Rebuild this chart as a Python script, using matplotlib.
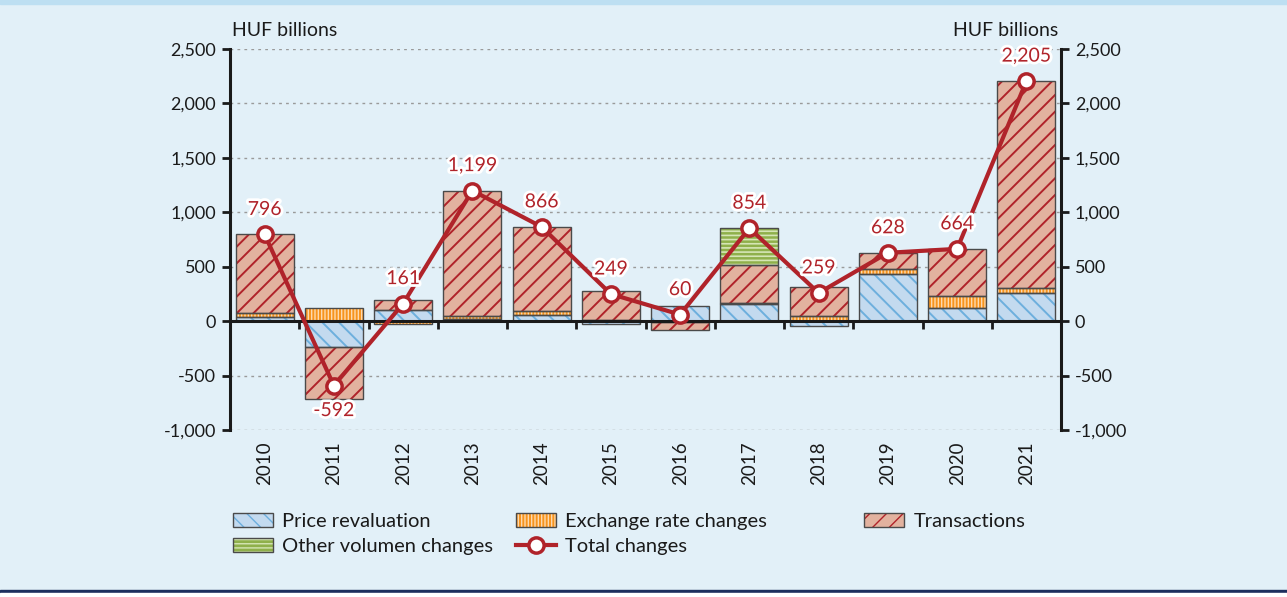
import numpy as np
import matplotlib.pyplot as plt
import matplotlib.patheffects as pe
import matplotlib.transforms as mtransforms
from matplotlib.patches import Patch, Rectangle
from matplotlib.lines import Line2D
from matplotlib.legend_handler import HandlerTuple
from matplotlib.ticker import FuncFormatter, MultipleLocator, FixedLocator

plt.rcParams['font.family'] = ['Lato', 'DejaVu Sans']

# data (HUF billions)
years = [str(y) for y in range(2010, 2022)]
price = [35, -236, 105, 20, 55, -28, 140, 159, -46, 430, 122, 254]
exch = [40, 123, -30, 30, 37, 15, -5, 10, 50, 45, 105, 55]
trans = [721, -479, 86, 1149, 774, 262, -75, 343, 260, 153, 437, 1896]
other = [0, 0, 0, 0, 0, 0, 0, 342, 0, 0, 0, 0]
total = [796, -592, 161, 1199, 866, 249, 60, 854, 259, 628, 664, 2205]

bg = '#E2F0F8'
red = '#B0232A'
edge = '#4a4a4a'
ink = '#1a1a1a'
fs = 13
lfs = 14.5

# name, values, face colour, hatch colour, hatch, hatch width
series = [
    ('Price revaluation', price, '#C3DAEF', '#6DAFDD', '\\\\', 1.4),
    ('Exchange rate changes', exch, '#F7941D', '#FDD9AE', '|||||', 1.0),
    ('Transactions', trans, '#E2B29F', '#B0232A', '//', 1.4),
    ('Other volumen changes', other, '#8FB04B', '#D5E5B5', '----', 1.2),
]

fig = plt.figure(figsize=(12.87, 5.97), dpi=100, facecolor=bg)
fig.patches.append(Rectangle((0, 1 - 4 / 597), 1, 4 / 597, transform=fig.transFigure,
                             color='#BDDFF2', zorder=0))
fig.patches.append(Rectangle((0, 4 / 597), 1, 3 / 597, transform=fig.transFigure,
                             color='#1C2F5E', zorder=0))
fig.patches.append(Rectangle((0, 0), 1, 4 / 597, transform=fig.transFigure,
                             color='white', zorder=0))

ax = fig.add_axes([230 / 1287, 1 - 430 / 597, 831 / 1287, 381 / 597])
ax.set_facecolor(bg)

x = np.arange(len(years))
w = 0.84
pos_base = np.zeros(len(years))
neg_base = np.zeros(len(years))
handles = {}
for name, vals, face, hcol, hatch, hlw in series:
    v = np.array(vals, dtype=float)
    bottom = np.where(v >= 0, pos_base, neg_base)
    m = v != 0
    with plt.rc_context({'hatch.linewidth': hlw}):
        ax.bar(x[m], v[m], w, bottom=bottom[m], color=face, edgecolor=hcol,
               hatch=hatch, linewidth=0, zorder=2)
        ax.bar(x[m], v[m], w, bottom=bottom[m], fill=False, edgecolor=edge,
               linewidth=1, zorder=3)
        fill_h = Patch(facecolor=face, edgecolor=hcol, hatch=hatch, linewidth=0)
    handles[name] = (fill_h, Patch(fill=False, edgecolor=edge, linewidth=1))
    pos_base += np.where(v > 0, v, 0)
    neg_base += np.where(v < 0, v, 0)

ax.plot(x, total, color=red, lw=3, marker='o', ms=11, mfc='white', mec=red, mew=2.5,
        zorder=5)
stroke = [pe.withStroke(linewidth=4, foreground='white')]
for xi, t in zip(x, total):
    off = -25 if t < 0 else 25
    ax.annotate(f'{t:,}', (xi, t), xytext=(0, off), textcoords='offset pixels',
                ha='center', va='center', color=red, fontsize=fs + 1,
                path_effects=stroke, zorder=6)

ax.set_xlim(-0.5, len(years) - 0.5)
ax.set_ylim(-1000, 2500)
ax.yaxis.set_major_locator(MultipleLocator(500))
fmt = FuncFormatter(lambda v, p: f'{int(v):,}')
ax.yaxis.set_major_formatter(fmt)
for s in ['top', 'right']:
    ax.spines[s].set_visible(False)
ax.spines['left'].set_linewidth(2.2)
ax.spines['left'].set_color(ink)
ax.spines['bottom'].set_position(('data', 0))
ax.spines['bottom'].set_linewidth(2.2)
ax.spines['bottom'].set_color(ink)
ax.spines['bottom'].set_zorder(4)
ax.xaxis.set_major_locator(FixedLocator(x))
ax.xaxis.set_major_formatter(FuncFormatter(lambda v, p: ''))
ax.xaxis.set_minor_locator(FixedLocator(x[:-1] + 0.5))
ax.tick_params(axis='x', which='major', length=0)
ax.tick_params(axis='x', which='minor', length=6, width=2, direction='out', color=ink)
ax.tick_params(axis='y', length=6, width=2, direction='out', labelsize=fs, pad=4,
               color=ink, labelcolor=ink)
for v in [-1000, -500, 500, 1000, 1500, 2000, 2500]:
    ax.axhline(v, color='#9a9a9a', lw=1, ls=(0, (2, 3)), zorder=1)

trans_x = mtransforms.blended_transform_factory(ax.transData, ax.transAxes)
for xi, yr in zip(x, years):
    ax.text(xi, -0.03, yr, transform=trans_x, rotation=90, ha='center', va='top',
            fontsize=fs + 0.5, color=ink)

ax2 = ax.twinx()
ax2.set_ylim(ax.get_ylim())
ax2.yaxis.set_major_locator(MultipleLocator(500))
ax2.yaxis.set_major_formatter(fmt)
for s in ['top', 'left', 'bottom']:
    ax2.spines[s].set_visible(False)
ax2.spines['right'].set_linewidth(2.2)
ax2.spines['right'].set_color(ink)
ax2.tick_params(axis='y', length=6, width=2, direction='out', labelsize=fs, pad=4,
                color=ink, labelcolor=ink)

fig.text(232 / 1287, 1 - 30 / 597, 'HUF billions', ha='left', va='center', fontsize=14,
         color=ink)
fig.text(1058 / 1287, 1 - 30 / 597, 'HUF billions', ha='right', va='center', fontsize=14,
         color=ink)

# legend in three columns, like the original layout
line_h = Line2D([], [], color=red, lw=3, marker='o', ms=11, mfc='white', mec=red, mew=2.5)
leg_kw = dict(frameon=False, fontsize=lfs, handlelength=2.0, handleheight=0.7,
              handletextpad=0.45, labelspacing=0.4, borderaxespad=0, borderpad=0,
              handler_map={tuple: HandlerTuple(ndivide=1, pad=0)})
cols = [
    (233, [handles['Price revaluation'], handles['Other volumen changes']],
     ['Price revaluation', 'Other volumen changes']),
    (516, [handles['Exchange rate changes'], line_h], ['Exchange rate changes', 'Total changes']),
    (864, [handles['Transactions']], ['Transactions']),
]
for px, hs, ls in cols:
    leg = fig.legend(hs, ls, loc='upper left', bbox_to_anchor=(px / 1287, 1 - 513 / 597),
                     **leg_kw)
    for t in leg.get_texts():
        t.set_color(ink)

fig.savefig('out.png', dpi=100, facecolor=bg)
